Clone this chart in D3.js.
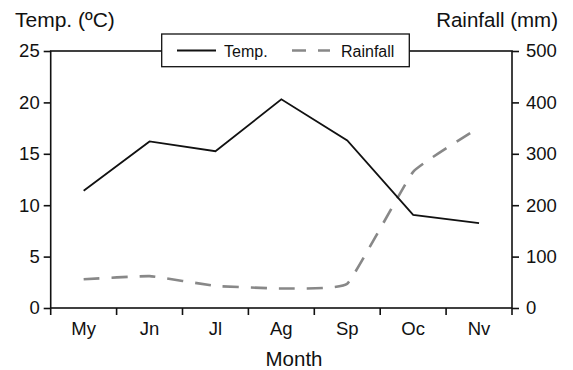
<!DOCTYPE html>
<html>
<head>
<meta charset="utf-8">
<script src="https://cdn.jsdelivr.net/npm/d3@7"></script>
<style>
  body { margin: 0; background: #fff; }
  svg text { font-family: "Liberation Sans", Arial, Helvetica, sans-serif; fill: #111; }
</style>
</head>
<body>
<div id="chart"></div>
<script>
const months = ['My', 'Jn', 'Jl', 'Ag', 'Sp', 'Oc', 'Nv'];
const temp = [11.4, 16.2, 15.25, 20.3, 16.3, 9.05, 8.25];
const rainfall = [56, 62, 43, 38, 47, 265, 351];
const tempTicks = [0, 5, 10, 15, 20, 25];
const rainTicks = [0, 100, 200, 300, 400, 500];

const width = 573;
const height = 370;
const margin = { top: 51, right: 61, bottom: 62, left: 50.7 };

const svg = d3.select('#chart')
    .append('svg')
    .attr('width', width)
    .attr('height', height);

const x = d3.scaleBand()
    .domain(months)
    .range([margin.left, width - margin.right])
    .padding(0);

const yT = d3.scaleLinear()
    .domain([0, 25])
    .range([height - margin.bottom, margin.top]);

const yR = d3.scaleLinear()
    .domain([0, 500])
    .range([height - margin.bottom, margin.top]);

const plotLeft = margin.left, plotRight = width - margin.right;
const plotTop = margin.top, plotBottom = height - margin.bottom;

// frame
svg.append('rect')
    .attr('x', plotLeft).attr('y', plotTop)
    .attr('width', plotRight - plotLeft).attr('height', plotBottom - plotTop)
    .attr('fill', 'none')
    .attr('stroke', '#111')
    .attr('stroke-width', 1.6);

// left axis
const gl = svg.append('g')
    .attr('transform', `translate(${plotLeft},0)`)
    .call(d3.axisLeft(yT).tickValues(tempTicks).tickSize(7).tickPadding(4));
gl.select('.domain').remove();
gl.selectAll('line').attr('stroke', '#111').attr('stroke-width', 1.6);
gl.selectAll('text').attr('font-size', '18.5px').attr('fill', '#111')
    .attr('font-family', '"Liberation Sans", Arial, sans-serif');

// right axis
const gr = svg.append('g')
    .attr('transform', `translate(${plotRight},0)`)
    .call(d3.axisRight(yR).tickValues(rainTicks).tickSize(7).tickPadding(7));
gr.select('.domain').remove();
gr.selectAll('line').attr('stroke', '#111').attr('stroke-width', 1.6);
gr.selectAll('text').attr('font-size', '18.5px').attr('fill', '#111')
    .attr('font-family', '"Liberation Sans", Arial, sans-serif');

// bottom ticks at month boundaries
const bounds = months.map(m => x(m)).concat([x.range()[1]]);
svg.append('g').selectAll('line')
    .data(bounds)
    .enter()
    .append('line')
    .attr('x1', d => d).attr('x2', d => d)
    .attr('y1', plotBottom).attr('y2', plotBottom + 7)
    .attr('stroke', '#111')
    .attr('stroke-width', 1.6);

// month labels
svg.append('g').selectAll('text')
    .data(months)
    .enter()
    .append('text')
    .attr('x', d => x(d) + x.bandwidth() / 2)
    .attr('y', plotBottom + 27)
    .attr('text-anchor', 'middle')
    .attr('font-size', '18.5px')
    .text(d => d);

// lines
const tempLine = d3.line()
    .x((d, i) => x(months[i]) + x.bandwidth() / 2)
    .y(d => yT(d));

const rainLine = d3.line()
    .x((d, i) => x(months[i]) + x.bandwidth() / 2)
    .y(d => yR(d))
    .curve(d3.curveCardinal.tension(0.7));

svg.append('path')
    .datum(rainfall)
    .attr('d', rainLine)
    .attr('fill', 'none')
    .attr('stroke', '#888')
    .attr('stroke-width', 2.6)
    .attr('stroke-dasharray', '16,12');

svg.append('path')
    .datum(temp)
    .attr('d', tempLine)
    .attr('fill', 'none')
    .attr('stroke', '#111')
    .attr('stroke-width', 1.8);

// axis titles
svg.append('text')
    .attr('x', 15).attr('y', 27)
    .attr('font-size', '21px')
    .text('Temp. (ºC)');

svg.append('text')
    .attr('x', 558).attr('y', 27)
    .attr('text-anchor', 'end')
    .attr('font-size', '20.5px')
    .text('Rainfall (mm)');

svg.append('text')
    .attr('x', 294).attr('y', 366)
    .attr('text-anchor', 'middle')
    .attr('font-size', '20.5px')
    .text('Month');

// legend
const legend = svg.append('g');
legend.append('rect')
    .attr('x', 161.7).attr('y', 34)
    .attr('width', 247.6).attr('height', 32.7)
    .attr('fill', '#fff')
    .attr('stroke', '#111')
    .attr('stroke-width', 1.3);
legend.append('line')
    .attr('x1', 177).attr('x2', 216)
    .attr('y1', 50.5).attr('y2', 50.5)
    .attr('stroke', '#111').attr('stroke-width', 1.8);
legend.append('text')
    .attr('x', 224).attr('y', 56.5)
    .attr('font-size', '16px')
    .text('Temp.');
legend.append('line')
    .attr('x1', 292).attr('x2', 330)
    .attr('y1', 50.5).attr('y2', 50.5)
    .attr('stroke', '#888').attr('stroke-width', 2.6)
    .attr('stroke-dasharray', '14,12');
legend.append('text')
    .attr('x', 341).attr('y', 56.5)
    .attr('font-size', '16px')
    .text('Rainfall');
</script>
</body>
</html>
